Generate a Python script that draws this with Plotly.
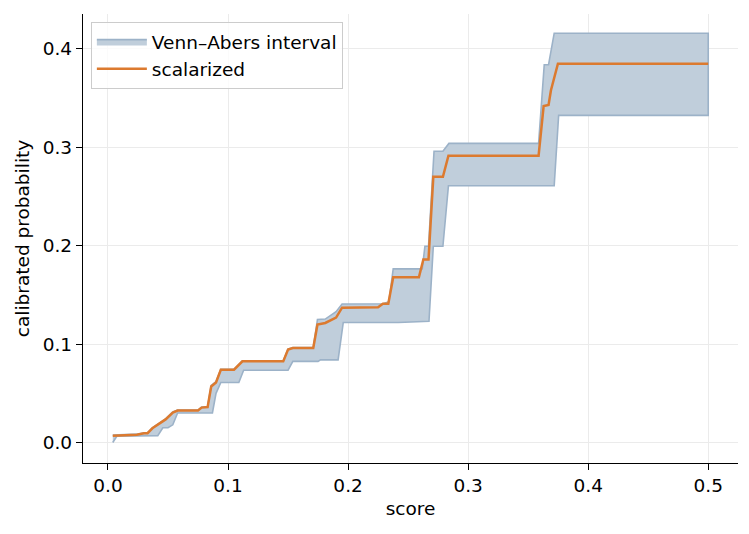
import plotly.graph_objects as go

# Venn-Abers upper bound
x_upper = [0.004, 0.024, 0.030, 0.033, 0.037, 0.048, 0.054, 0.058, 0.075, 0.078,
           0.083, 0.086, 0.090, 0.094, 0.105, 0.112, 0.146, 0.150, 0.154, 0.171,
           0.1745, 0.181, 0.190, 0.195, 0.229, 0.234, 0.2376, 0.2618, 0.264, 0.267,
           0.2716, 0.279, 0.284, 0.3587, 0.3634, 0.367, 0.3717, 0.500]
p_upper = [0.0075, 0.0085, 0.0100, 0.0100, 0.0150, 0.0240, 0.0310, 0.0330, 0.0330, 0.0360,
           0.0365, 0.0580, 0.0620, 0.0745, 0.0745, 0.0830, 0.0830, 0.0950, 0.0965, 0.0965,
           0.1250, 0.1255, 0.1330, 0.1408, 0.1410, 0.1430, 0.1765, 0.1765, 0.1995, 0.1995,
           0.2960, 0.2960, 0.3040, 0.3040, 0.3840, 0.3840, 0.4160, 0.4160]

# Venn-Abers lower bound
x_lower = [0.004, 0.0075, 0.024, 0.0415, 0.0457, 0.050, 0.054, 0.058, 0.087, 0.090,
           0.094, 0.109, 0.113, 0.150, 0.154, 0.175, 0.177, 0.1917, 0.196, 0.242,
           0.2674, 0.271, 0.279, 0.2836, 0.3717, 0.3754, 0.500]
p_lower = [0.0000, 0.0065, 0.0068, 0.0070, 0.0150, 0.0150, 0.0180, 0.0300, 0.0300, 0.0500,
           0.0610, 0.0610, 0.0735, 0.0735, 0.0825, 0.0825, 0.0840, 0.0840, 0.1220, 0.1220,
           0.1232, 0.1995, 0.1995, 0.2610, 0.2610, 0.3325, 0.3325]

# scalarized probability
x_scalar = [0.004, 0.024, 0.030, 0.033, 0.037, 0.048, 0.054, 0.058, 0.075, 0.078,
            0.083, 0.086, 0.090, 0.094, 0.105, 0.112, 0.146, 0.150, 0.154, 0.171,
            0.1745, 0.181, 0.190, 0.195, 0.225, 0.229, 0.2335, 0.2376, 0.259, 0.2627,
            0.267, 0.271, 0.279, 0.2836, 0.3587, 0.3629, 0.367, 0.369, 0.3748, 0.500]
p_scalar = [0.0070, 0.0080, 0.0095, 0.0095, 0.0145, 0.0235, 0.0305, 0.0325, 0.0325, 0.0355,
            0.0360, 0.0570, 0.0610, 0.0740, 0.0740, 0.0825, 0.0825, 0.0945, 0.0960, 0.0960,
            0.1200, 0.1215, 0.1270, 0.1370, 0.1375, 0.1410, 0.1410, 0.1680, 0.1680, 0.1860,
            0.1860, 0.2700, 0.2700, 0.2915, 0.2915, 0.3420, 0.3430, 0.3580, 0.3850, 0.3850]

ticks = [0.0, 0.1, 0.2, 0.3, 0.4, 0.5]

fig = go.Figure()
fig.add_trace(go.Scatter(
    x=x_upper + x_lower[::-1], y=p_upper + p_lower[::-1],
    fill='toself', fillcolor='#c0cedb', mode='lines',
    line=dict(color='#9cb2c8', width=1.6),
    name='Venn\u2013Abers interval'))
fig.add_trace(go.Scatter(
    x=x_scalar, y=p_scalar, mode='lines',
    line=dict(color='#dc7a2f', width=2.5),
    name='scalarized'))

fs = 18.5
axis_style = dict(
    showline=True, linecolor='black', linewidth=1.4, mirror=False,
    ticks='outside', ticklen=6, tickwidth=1.4, tickcolor='black',
    showgrid=True, gridcolor='#ebebeb', gridwidth=1, zeroline=False,
    tickfont=dict(size=fs, color='black'), tickformat='.1f',
)

# page body has an 8px margin, so the figure is shifted by 8px
fig.update_layout(
    width=741, height=526,
    margin=dict(l=75, r=11, t=6, b=71),
    paper_bgcolor='white', plot_bgcolor='white',
    font=dict(family='DejaVu Sans', size=fs, color='black'),
    xaxis=dict(range=[-0.0208, 0.5248], tickvals=ticks,
               title=dict(text='score', font=dict(size=fs), standoff=6), **axis_style),
    yaxis=dict(range=[-0.0208, 0.4355], tickvals=ticks[:5],
               title=dict(text='calibrated probability', font=dict(size=fs), standoff=8), **axis_style),
    legend=dict(x=0.012, y=0.982, xanchor='left', yanchor='top',
                bgcolor='rgba(255,255,255,0.8)', bordercolor='#cccccc', borderwidth=1,
                font=dict(size=fs), tracegroupgap=0, itemwidth=50),
    showlegend=True,
)

fig.write_html("out.html")
